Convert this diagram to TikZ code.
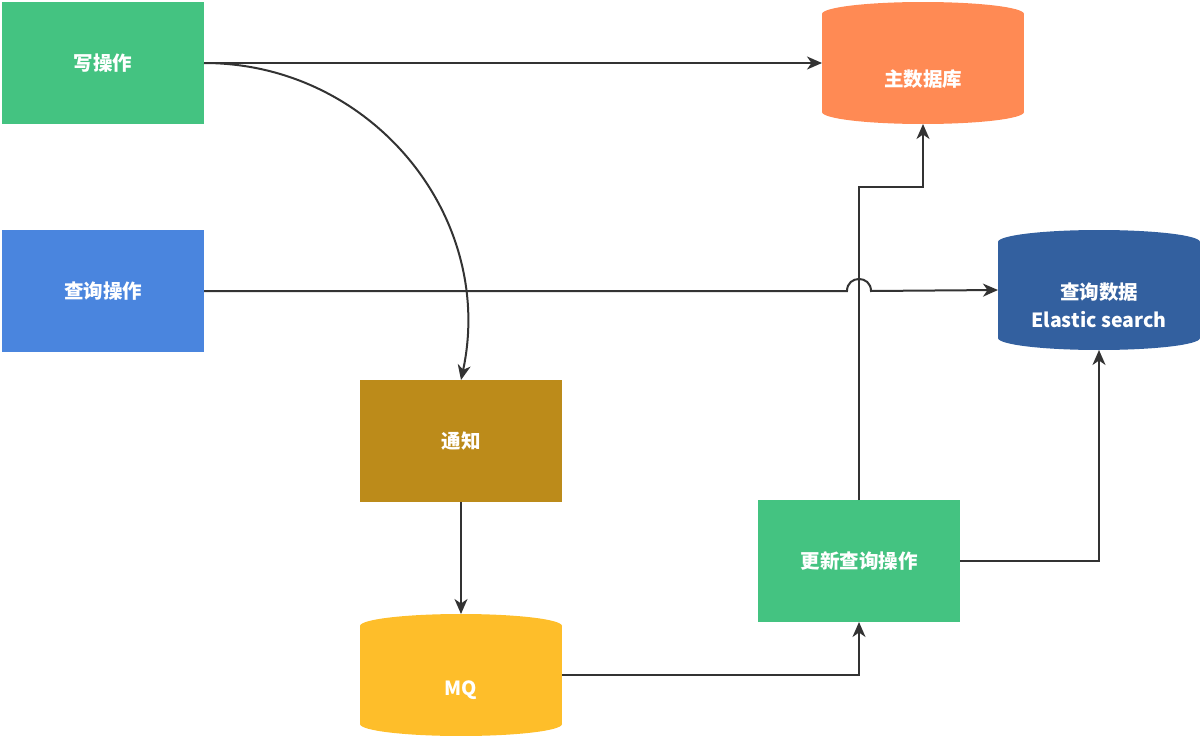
\documentclass[tikz,border=0pt]{standalone}
\usepackage{fontspec}
\newfontfamily\cjk{Noto Sans CJK SC}
\usetikzlibrary{arrows.meta,calc}
\definecolor{cgreen}{HTML}{44C381}
\definecolor{corange}{HTML}{FF8A54}
\definecolor{cblue}{HTML}{4A85DE}
\definecolor{cdblue}{HTML}{33609F}
\definecolor{cbrown}{HTML}{BC8B1A}
\definecolor{cyellow}{HTML}{FEBE2A}
\definecolor{cline}{HTML}{333333}
\tikzset{
  box/.style={minimum width=202pt,minimum height=122pt,inner sep=0pt,outer sep=0pt},
  txt/.style={text=white,font=\cjk\bfseries\fontsize{19.5}{28}\selectfont,align=center,inner sep=0pt},
  conn/.style={draw=cline,line width=2pt,-{Stealth[length=15pt,width=13pt,inset=4.5pt]}},
}
\newcommand{\cylfill}[5]{% color, x1, y1, x2, y2
  \fill[#1] (#2,#3+12) rectangle (#4,#5-12);
  \fill[#1] ({(#2+#4)/2},#3+12) ellipse [x radius={(#4-#2)/2}, y radius=12];
  \fill[#1] ({(#2+#4)/2},#5-12) ellipse [x radius={(#4-#2)/2}, y radius=12];
}
\begin{document}
\begin{tikzpicture}[x=1pt,y=-1pt]
\useasboundingbox (0,0) rectangle (1200,736);
% rectangles
\node[box,fill=cgreen] (w) at (103,63) {};
\node[txt] at (w.center) {写操作};
\node[box,fill=cblue] (q) at (103,291) {};
\node[txt] at (q.center) {查询操作};
\node[box,fill=cbrown] (n) at (461,441) {};
\node[txt] at (n.center) {通知};
\node[box,fill=cgreen] (u) at (859,561) {};
\node[txt] at (u.center) {更新查询操作};
% cylinders
\cylfill{corange}{822}{2}{1024}{124}
\node[box] (db) at (923,63) {};
\node[txt] at ($(db.center)+(0,16)$) {主数据库};
\cylfill{cdblue}{998}{230}{1200}{350}
\node[box,minimum height=120pt] (es) at (1099,290) {};
\node[txt] at ($(es.center)+(0,15)$) {查询数据\\Elastic search};
\cylfill{cyellow}{360}{614}{562}{736}
\node[box] (mq) at (461,675) {};
\node[txt] at ($(mq.center)+(0,15)$) {MQ};
% connectors
\coordinate (j1) at (847,291);
\coordinate (j2) at (871,291);
\coordinate (bend) at (923,187);
\draw[conn] (w.east) -- (db.west);
\draw[conn] (w.east) .. controls (372,63) and (496,217) .. (n.north);
\draw[conn] (q.east) -- (j1) .. controls (847,275) and (871,275) .. (j2) -- (es.west);
\draw[conn] (n.south) -- (mq.north);
\draw[conn] (mq.east) -| (u.south);
\draw[conn] (u.north) |- (bend) -- (db.south);
\draw[conn] (u.east) -| (es.south);
\end{tikzpicture}
\end{document}
